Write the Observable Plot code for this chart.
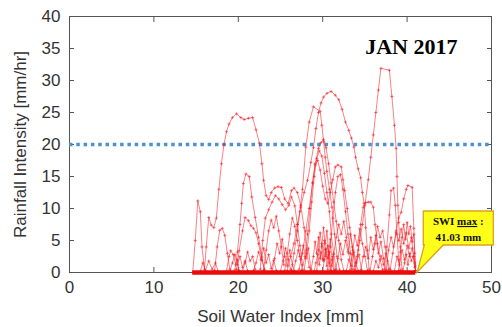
<!DOCTYPE html>
<html>
<head>
<meta charset="utf-8">
<script src="https://cdn.jsdelivr.net/npm/d3@7"></script>
<script src="https://cdn.jsdelivr.net/npm/@observablehq/plot@0.6"></script>
<style>
  html, body { margin: 0; padding: 0; background: #fff; }
</style>
</head>
<body>
<div id="chart"></div>
<script>
// Rainfall intensity [mm/hr] against soil water index [mm], January 2017.
// Each event is a snake line of [SWI, rainfall intensity] pairs.
const title = "JAN 2017";
const xTicks = [0, 10, 20, 30, 40, 50];
const yTicks = [0, 5, 10, 15, 20, 25, 30, 35, 40];
const thresholdRain = 20;     // warning line
const swiMin = 14.6;
const swiMax = 41.03;

const ev01 = [[14.6,0],[14.9,5],[15.2,11.2],[15.5,9.5],[15.7,4],[16.0,0.5],[16.2,4],[16.5,8.6],[16.8,7.4],[17.1,7],[17.4,8.5],[17.7,13],[18.0,17],[18.3,20],[18.6,22],[18.9,23.2],[19.3,24.2],[19.8,24.8],[20.3,24.2],[20.7,23.9],[21.2,24.1],[21.7,24.2],[22.1,22.3],[22.5,20.2],[22.8,17],[23.0,14.4],[23.3,12.0],[23.6,11.4],[23.9,12.5],[24.3,13.2],[24.7,13.4],[25.1,13.3],[25.5,11.5],[25.9,10.8],[26.3,12.8],[26.6,13.2],[27.0,12.5],[27.4,10.5],[27.8,7],[28.1,3.5],[28.4,0.8]];
const ev02 = [[17.2,0.3],[17.5,4],[17.8,6.6],[18.1,6.9],[18.4,5.8],[18.7,3],[19.0,0.5]];
const ev03 = [[18.6,0.2],[18.9,2.5],[19.1,3.4],[19.4,2.8],[19.7,1.2],[19.9,2],[20.1,0.3]];
const ev04 = [[19.6,0.4],[19.9,3.2],[20.2,7.5],[20.4,10.8],[20.6,13.9],[20.9,15.4],[21.3,15],[21.6,11.8],[22.0,8.6],[22.4,5.5],[22.8,2.4],[23.1,0.3]];
const ev05 = [[19.8,0.5],[20.1,3.4],[20.5,6.5],[20.8,8.6],[21.2,8.1],[21.5,7.3],[21.8,6.9],[22.1,6.2],[22.4,4.5],[22.8,1.9],[23.1,0.5]];
const ev06 = [[22.6,0.5],[22.9,5],[23.2,8.5],[23.6,9.8],[24.0,11.0],[24.4,12.0],[24.8,11.5],[25.2,10.6],[25.6,9.8],[26.0,10.5],[26.3,11.8],[26.7,10.4],[27.0,7.5],[27.3,4.2],[27.6,1.2]];
const ev07 = [[25.8,0.3],[26.2,2.5],[26.6,4.5],[27.0,7.5],[27.4,10.2],[27.8,12.5],[28.2,14.4],[28.6,17.2],[28.9,19.5],[29.2,22.5],[29.5,25],[29.8,26.5],[30.1,27.4],[30.5,28],[31.0,28.3],[31.5,27.7],[31.9,27],[32.3,25.5],[32.7,23.5],[33.1,22.2],[33.4,21],[33.7,19.6],[33.9,18],[34.2,16.2],[34.5,14.8],[34.7,12.5],[34.9,10.8],[35.1,7],[35.3,3.5],[35.5,0.5]];
const ev08 = [[26.3,0.3],[26.6,3],[27.0,6.5],[27.3,9.5],[27.6,13],[28.0,19.6],[28.4,23.5],[28.9,25.9],[29.7,25.2],[29.9,23],[30.1,20.5],[30.3,18],[30.5,15.8],[30.8,13],[31.1,10.2],[31.4,6],[31.7,2.5],[32.0,0.4]];
const ev09 = [[27.2,0.5],[27.6,3],[28.0,6.5],[28.4,10],[28.8,14],[29.1,17],[29.5,19.4],[29.8,20.3],[30.1,20.8],[30.4,19.5],[30.7,17],[31.0,14],[31.3,11],[31.6,8],[31.9,5],[32.2,2],[32.5,0.3]];
const ev10 = [[27.8,0.4],[28.1,3],[28.4,6.5],[28.7,11],[29.0,15],[29.3,17.8],[29.6,19],[29.9,18.2],[30.2,15.5],[30.5,12.5],[30.8,9.5],[31.0,6],[31.3,3],[31.6,0.5]];
const ev11 = [[27.5,0.3],[27.9,2.5],[28.2,6],[28.5,10],[28.8,14],[29.1,16.8],[29.4,17.5],[29.7,16],[30.0,13.5],[30.3,11.5],[30.6,10.8],[30.9,12.5],[31.2,14.5],[31.5,16.5],[31.8,16.8],[32.2,16.5],[32.4,14.5],[32.6,12.8],[32.9,10],[33.2,7],[33.5,4],[33.8,1]];
const ev12 = [[30.6,0.5],[30.9,4],[31.2,8.5],[31.5,12.5],[31.8,15],[32.1,15.3],[32.4,13],[32.7,9.5],[33.0,6],[33.3,3],[33.6,0.5]];
const ev13 = [[33.8,0.4],[34.1,2.5],[34.4,5],[34.7,7.5],[35.0,10.5],[35.4,14.5],[35.7,18],[36.0,21.5],[36.3,25],[36.6,28.5],[36.9,31.9],[37.9,31.6],[38.2,27.5],[38.5,23],[38.7,19.4],[38.8,15],[38.9,10.5],[39.0,7.8],[39.2,4],[39.4,0.5]];
const ev14 = [[33.9,0.3],[34.2,3.5],[34.5,7.5],[34.8,10.2],[35.1,10.9],[35.4,11],[35.7,11],[36.0,10.2],[36.2,7.5],[36.5,4.5],[36.8,2],[37.1,0.4]];
const ev15 = [[38.0,0.5],[38.3,3],[38.7,6.5],[39.0,8.5],[39.3,9.4],[39.6,11.5],[39.9,13],[40.1,13.6],[40.6,13.3],[40.8,6.9],[40.9,3],[41.0,0.3]];
const ev16 = [[37.3,0.5],[37.6,4],[37.9,9],[38.1,12.8],[38.4,13.2],[38.6,10.5],[38.8,6],[39.0,2],[39.2,0.3]];
const ev17 = [[19.0,0.2],[19.3,1.5],[19.6,2.8],[19.9,1.2],[20.2,2.5],[20.5,0.8],[20.8,1.8],[21.1,0.3]];
const ev18 = [[21.8,0.3],[22.1,1.5],[22.4,3.2],[22.7,2],[23.0,3.8],[23.3,1.5],[23.6,2.8],[23.9,0.6],[24.2,1.9],[24.5,0.3]];
const ev19 = [[24.0,0.2],[24.3,2.2],[24.6,4.5],[24.9,3],[25.2,5.2],[25.5,2.5],[25.8,1],[26.1,3.5],[26.4,1.2],[26.7,0.2]];
const ev20 = [[28.6,0.3],[28.9,2.5],[29.1,4.8],[29.3,3],[29.5,5.5],[29.7,2.2],[29.9,4.5],[30.1,1.8],[30.3,3.6],[30.5,1],[30.7,2.8],[30.9,0.3]];
const ev21 = [[29.0,0.2],[29.2,1.5],[29.4,2.8],[29.6,1.2],[29.8,3.2],[30.0,2],[30.2,5],[30.4,2.5],[30.6,4.2],[30.8,1.5],[31.0,0.2]];
const ev22 = [[31.5,0.3],[31.8,2.2],[32.1,4.5],[32.4,2.8],[32.7,5],[33.0,3.2],[33.3,6],[33.6,3.5],[33.9,1.5],[34.2,0.3]];
const ev23 = [[34.5,0.3],[34.8,2.5],[35.1,4],[35.4,2.2],[35.7,5.5],[36.0,3.6],[36.3,5.8],[36.6,3],[36.9,4.8],[37.2,2.2],[37.5,0.4]];
const ev24 = [[37.5,0.2],[37.8,3.5],[38.1,5.5],[38.4,4],[38.7,6.2],[39.0,5],[39.3,6.8],[39.6,4.5],[39.9,6.2],[40.2,3.8],[40.5,5.5],[40.8,2.5],[41.0,0.3]];
const ev25 = [[38.5,0.2],[38.8,2.5],[39.1,1.2],[39.4,3.5],[39.7,2],[40.0,4.2],[40.3,2.5],[40.6,3.8],[40.9,1.5],[41.0,0.2]];
const ev26 = [[25.0,0.2],[25.3,1.8],[25.6,3.8],[25.9,2],[26.2,0.5]];
const ev27 = [[32.8,0.3],[33.1,2],[33.4,1],[33.7,3.2],[34.0,1.5],[34.3,2.8],[34.6,0.4]];
const ev28 = [[36.0,0.2],[36.3,1.8],[36.6,0.8],[36.9,2.6],[37.2,1.2],[37.5,3],[37.8,0.5]];
const ev29 = [[15.5,0.2],[15.8,1.5],[16.1,0.3],[16.5,1.8],[16.9,0.5],[17.3,1.5],[17.6,0.2]];
const ev30 = [[23.0,0.3],[23.3,3.5],[23.6,6.5],[23.9,8.2],[24.2,7],[24.5,8.8],[24.8,6.5],[25.1,4],[25.4,1.2]];
const ev31 = [[25.5,0.3],[25.8,3],[26.1,6],[26.4,8.5],[26.7,7.2],[27.0,5],[27.3,2.5],[27.6,0.3]];
const ev32 = [[26.5,0.2],[26.8,1.8],[27.1,3.5],[27.4,2],[27.7,4.2],[28.0,2.2],[28.3,3.8],[28.6,0.5]];
const ev33 = [[29.3,0.3],[29.5,3.5],[29.7,6.2],[29.9,4],[30.1,7],[30.3,4.5],[30.5,6.5],[30.7,3.2],[30.9,5.2],[31.1,2],[31.3,0.3]];
const ev34 = [[31.0,0.2],[31.3,2.8],[31.6,5.5],[31.9,7.5],[32.2,6],[32.5,8],[32.8,5.5],[33.1,3],[33.4,0.5]];
const ev35 = [[33.2,0.3],[33.5,2.8],[33.8,5.8],[34.1,4.2],[34.4,6.8],[34.7,4.5],[35.0,2.5],[35.3,0.3]];
const ev36 = [[35.6,0.2],[35.9,2.5],[36.2,4.5],[36.5,7.2],[36.8,5.5],[37.1,6.5],[37.4,4],[37.7,1.8],[38.0,0.3]];
const ev37 = [[39.0,0.3],[39.2,3.2],[39.4,5.5],[39.6,7.5],[39.8,5.2],[40.0,7.8],[40.2,6],[40.4,7.2],[40.6,4.8],[40.8,6],[41.0,1]];
const ev38 = [[39.5,0.2],[39.7,1.5],[39.9,2.8],[40.1,1.2],[40.3,3],[40.5,1.8],[40.7,2.5],[40.9,0.8]];
const ev39 = [[20.5,0.2],[20.8,1.5],[21.1,3.2],[21.4,1.8],[21.7,2.5],[22.0,0.5]];
const ev40 = [[30.0,0.2],[30.2,2],[30.4,3.8],[30.6,2.2],[30.8,3.2],[31.0,1],[31.2,2.5],[31.4,0.3]];

const events = [ev01, ev02, ev03, ev04, ev05, ev06, ev07, ev08, ev09, ev10,
  ev11, ev12, ev13, ev14, ev15, ev16, ev17, ev18, ev19, ev20,
  ev21, ev22, ev23, ev24, ev25, ev26, ev27, ev28, ev29, ev30,
  ev31, ev32, ev33, ev34, ev35, ev36, ev37, ev38, ev39, ev40];

const rows = events.flatMap((ev, i) => ev.map(([swi, rain]) => ({event: i, swi, rain})));

const red = "#f51c24";
const blank = () => "";

const plot = Plot.plot({
  width: 502,
  height: 327,
  marginLeft: 69,
  marginRight: 11,
  marginTop: 16,
  marginBottom: 55,
  style: {
    background: "#fff",
    fontFamily: "'Liberation Sans', Arial, sans-serif",
    fontSize: "17px",
    color: "#333"
  },
  x: {domain: [0, 50], ticks: xTicks},
  y: {domain: [0, 40], ticks: yTicks},
  marks: [
    Plot.frame({stroke: "#555", strokeWidth: 1}),
    // axis tick labels
    Plot.axisX(xTicks, {anchor: "bottom", tickSize: 0, tickPadding: 8, label: null}),
    Plot.axisY(yTicks, {anchor: "left", tickSize: 0, tickPadding: 9, label: null}),
    // inward tick marks on all four sides
    Plot.axisX(xTicks, {anchor: "bottom", tickSize: -5, tickFormat: blank, label: null, stroke: "#555"}),
    Plot.axisX(xTicks, {anchor: "top", tickSize: -5, tickFormat: blank, label: null, stroke: "#555"}),
    Plot.axisY(yTicks, {anchor: "left", tickSize: -5, tickFormat: blank, label: null, stroke: "#555"}),
    Plot.axisY(yTicks, {anchor: "right", tickSize: -5, tickFormat: blank, label: null, stroke: "#555"}),
    // axis titles
    Plot.text(["Rainfall Intensity [mm/hr]"], {frameAnchor: "left", textAnchor: "middle", dx: -49, rotate: -90, fontSize: 17, fill: "#333"}),
    Plot.text(["Soil Water Index [mm]"], {frameAnchor: "bottom", lineAnchor: "middle", dy: 44, fontSize: 17, fill: "#333"}),
    // threshold line
    Plot.ruleY([thresholdRain], {stroke: "#4d92cf", strokeWidth: 3.5, strokeDasharray: "3.5,3.8"}),
    // snake lines
    Plot.line(rows, {x: "swi", y: "rain", z: "event", stroke: red, strokeWidth: 0.7, strokeOpacity: 0.8}),
    Plot.dot(rows, {x: "swi", y: "rain", symbol: "plus", r: 1.1, stroke: red, strokeWidth: 0.6, strokeOpacity: 0.9}),
    // base of the events along zero intensity
    Plot.ruleY([0], {x1: swiMin, x2: swiMax, stroke: "#ea0a0a", strokeWidth: 4.5}),
    Plot.text([title], {frameAnchor: "top-right", dx: -34, dy: 22, textAnchor: "end", lineAnchor: "top",
      fontFamily: "'Liberation Serif', 'Times New Roman', serif", fontWeight: "bold", fontSize: 22, fill: "#000"})
  ]
});

document.getElementById("chart").append(plot);

// Callout pointing at the maximum soil water index
const xs = plot.scale("x"), ys = plot.scale("y");
const tipX = xs.apply(swiMax), tipY = ys.apply(0);
const boxL = tipX + 8, boxR = tipX + 78, boxT = tipY - 61, boxB = tipY - 27;
const callout = d3.select(plot).append("g").attr("class", "callout");
callout.append("path")
  .attr("d", `M${boxL},${boxT}H${boxR}V${boxB}H${boxL + 20}L${tipX + 2},${tipY}L${boxL + 1},${boxB}H${boxL}Z`)
  .attr("fill", "#ffff1a")
  .attr("stroke", "#d9a21b")
  .attr("stroke-width", 1.3)
  .attr("stroke-linejoin", "miter");
const cx = (boxL + boxR) / 2;
const line1 = callout.append("text")
  .attr("x", cx).attr("y", boxT + 14)
  .attr("text-anchor", "middle")
  .attr("font-family", "'Liberation Serif', 'Times New Roman', serif")
  .attr("font-weight", "bold").attr("font-size", 11).attr("fill", "#111");
line1.append("tspan").text("SWI ");
line1.append("tspan").text("max")
  .style("text-decoration", "underline")
  .style("text-decoration-color", "#e02020");
line1.append("tspan").text(" :");
callout.append("text")
  .attr("x", cx).attr("y", boxT + 30)
  .attr("text-anchor", "middle")
  .attr("font-family", "'Liberation Serif', 'Times New Roman', serif")
  .attr("font-weight", "bold").attr("font-size", 11).attr("fill", "#111")
  .text(`${swiMax.toFixed(2)} mm`);
</script>
</body>
</html>
